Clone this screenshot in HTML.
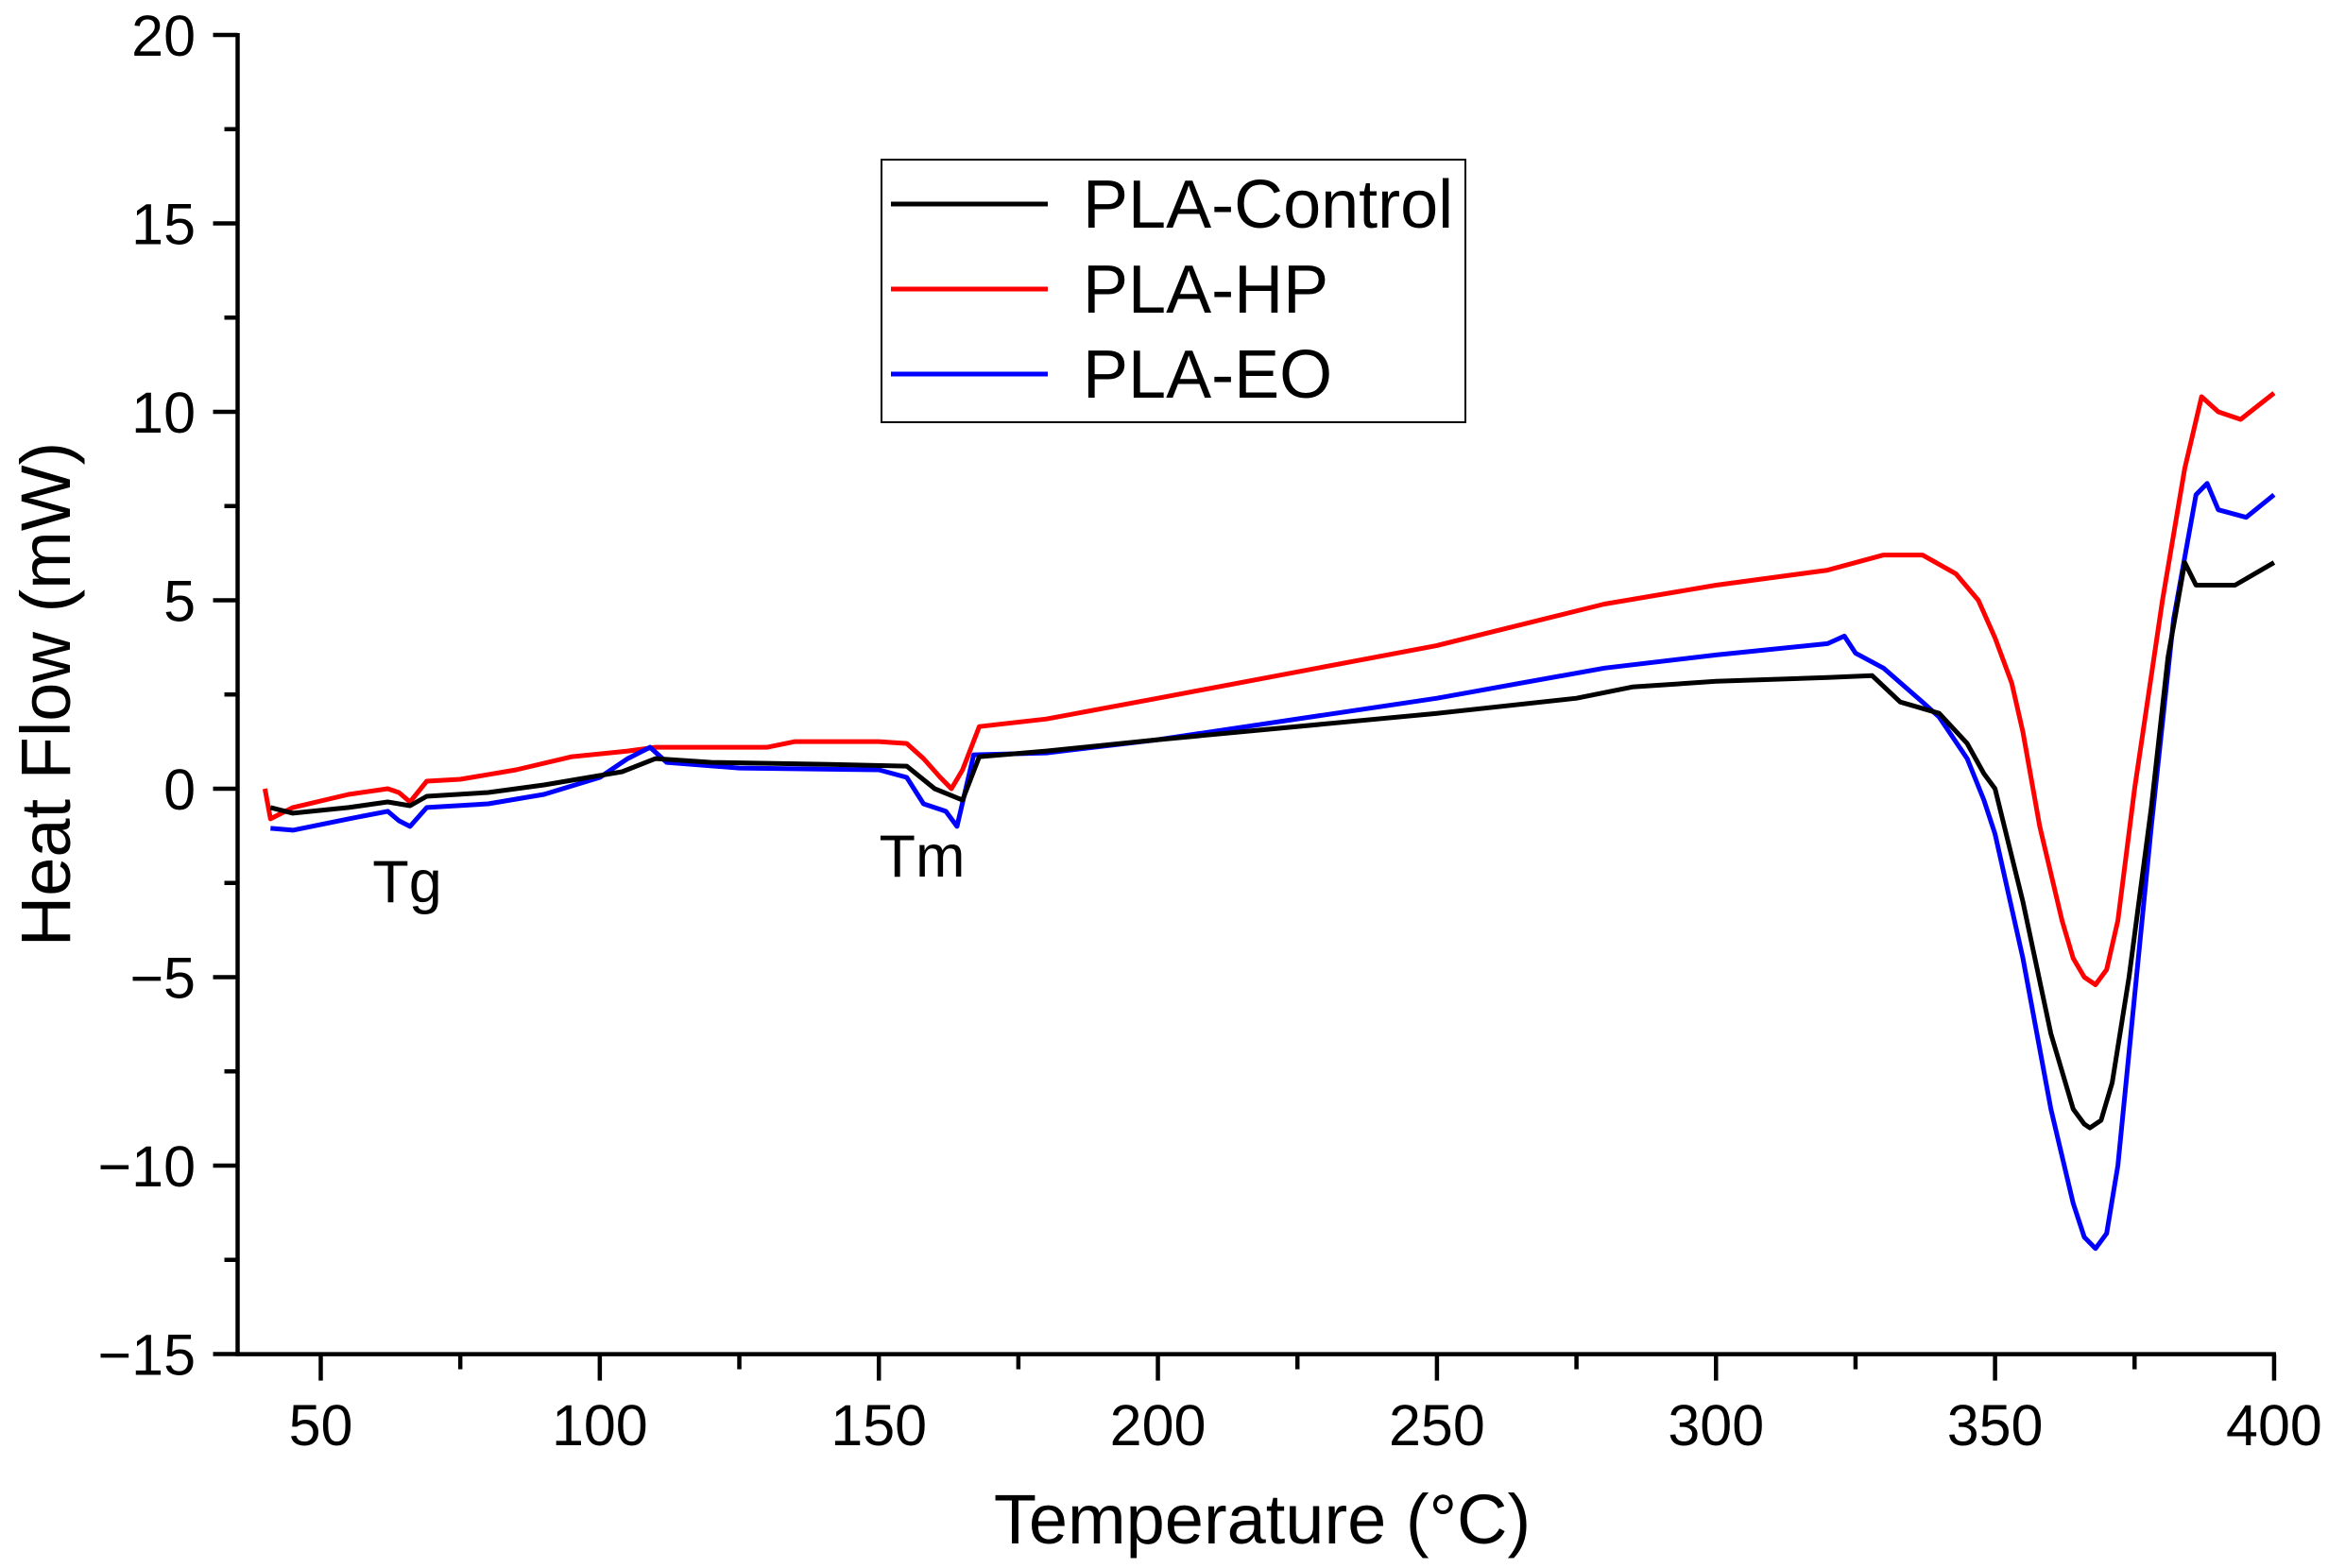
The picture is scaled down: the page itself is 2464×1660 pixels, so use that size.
<!DOCTYPE html>
<html><head><meta charset="utf-8"><style>
html,body{margin:0;padding:0;background:#fff;}
svg{display:block;font-family:"Liberation Sans",Arial,sans-serif;}
</style></head><body>
<svg id="s" width="2464" height="1660" viewBox="0 0 2464 1660" xmlns="http://www.w3.org/2000/svg">
<rect width="2464" height="1660" fill="#fff"/>
<g id="ax" stroke="#000" stroke-width="4.5" fill="none"></g>
<g id="lbl" font-size="61" fill="#000"></g>
<g id="cur" fill="none" stroke-width="5" stroke-linejoin="round"></g>
<text x="431" y="955" font-size="63" text-anchor="middle">Tg</text>
<text x="976" y="928" font-size="63" text-anchor="middle">Tm</text>
<text x="1336" y="1634" font-size="74" text-anchor="middle">Temperature (°C)</text>
<text transform="translate(74,735) rotate(-90)" font-size="74" text-anchor="middle">Heat Flow (mW)</text>
<rect x="933" y="169" width="618" height="278" fill="#fff" stroke="#000" stroke-width="2"/>
<line x1="943" y1="216" x2="1109" y2="216" stroke="#000" stroke-width="5"/>
<line x1="943" y1="306" x2="1109" y2="306" stroke="#f00" stroke-width="5"/>
<line x1="943" y1="396" x2="1109" y2="396" stroke="#00f" stroke-width="5"/>
<text x="1146" y="241" font-size="72">PLA-Control</text>
<text x="1146" y="331" font-size="72">PLA-HP</text>
<text x="1146" y="421" font-size="72">PLA-EO</text>
</svg>
<script>
var NS="http://www.w3.org/2000/svg";
function X(t){return 339.5+(t-50)*5.907;}
function Y(v){return 37+(20-v)*39.9;}
var ax=document.getElementById("ax"),lbl=document.getElementById("lbl"),cur=document.getElementById("cur");
function ln(x1,y1,x2,y2){var l=document.createElementNS(NS,"line");l.setAttribute("x1",x1);l.setAttribute("y1",y1);l.setAttribute("x2",x2);l.setAttribute("y2",y2);ax.appendChild(l);}
function tx(x,y,s,a){var t=document.createElementNS(NS,"text");t.setAttribute("x",x);t.setAttribute("y",y);t.setAttribute("text-anchor",a);t.textContent=s;lbl.appendChild(t);}
var x0=251.5,y0=1433.6;
ln(x0,Y(20)-2,x0,y0+2);ln(x0-2,y0,X(400)+2,y0);
for(var v=-15;v<=20;v+=2.5){var maj=(v%5===0);ln(x0-(maj?26:14),Y(v),x0,Y(v));if(maj)tx(207,Y(v)+22,(v<0?"\u2212"+(-v):""+v),"end");}
for(var t=50;t<=400;t+=25){var maj=(t%50===0);ln(X(t),y0,X(t),y0+(maj?28:16));if(maj)tx(X(t),1530,""+t,"middle");}
function path(d,c){var s="";for(var i=0;i<d.length;i+=2)s+=(i?"L":"M")+X(d[i]).toFixed(1)+","+Y(d[i+1]).toFixed(1);var p=document.createElementNS(NS,"path");p.setAttribute("d",s);p.setAttribute("stroke",c);cur.appendChild(p);}
path([40,0,41,-0.8,45,-0.5,55,-0.15,62,0,64,-0.1,66,-0.35,69,0.2,75,0.25,85,0.5,95,0.85,105,1.0,110,1.1,130,1.1,135,1.25,150,1.25,155,1.2,158,0.8,161,0.3,163,0,165,0.5,168,1.65,180,1.85,200,2.4,250,3.8,280,4.9,300,5.4,320,5.8,330,6.2,337,6.2,343,5.7,347,5.0,350,4.0,353,2.8,355,1.5,358,-1,362,-3.5,364,-4.5,366,-5.0,368,-5.2,370,-4.8,372,-3.5,375,0,380,5,384,8.5,387,10.4,390,10.0,394,9.8,400,10.5],"#f00");
path([41,-1.05,45,-1.1,55,-0.8,62,-0.6,64,-0.85,66,-1.0,69,-0.5,80,-0.4,90,-0.15,100,0.3,105,0.8,109,1.1,112,0.7,125,0.55,150,0.5,155,0.3,158,-0.4,162,-0.6,164,-1.0,167,0.9,180,0.95,200,1.3,250,2.4,280,3.2,300,3.55,320,3.85,323,4.05,325,3.6,330,3.2,337,2.3,340,1.9,345,0.8,348,-0.3,350,-1.2,355,-4.5,360,-8.5,364,-11,366,-11.9,368,-12.2,370,-11.8,372,-10,374,-7,378,-1,382,4.5,386,7.8,388,8.1,390,7.4,395,7.2,400,7.8],"#00f");
path([41,-0.5,45,-0.65,55,-0.5,62,-0.35,66,-0.45,69,-0.2,80,-0.1,90,0.1,100,0.35,104,0.45,110,0.8,120,0.7,140,0.65,155,0.6,160,0,165,-0.3,168,0.85,180,1.0,200,1.3,250,2.0,275,2.4,285,2.7,300,2.85,320,2.95,328,3.0,333,2.3,340,2.0,345,1.2,348,0.4,350,0,355,-3,360,-6.5,364,-8.5,366,-8.9,367,-9.0,369,-8.8,371,-7.8,374,-5,378,-0.5,381,3.5,384,6.0,386,5.4,393,5.4,400,6.0],"#000");
</script>
</body></html>
